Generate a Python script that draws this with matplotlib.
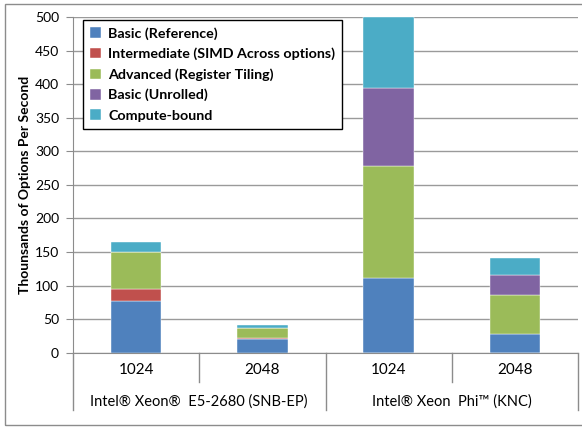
import numpy as np
from matplotlib import pyplot as plt
from matplotlib import transforms
from matplotlib.patches import Rectangle

plt.rcParams['font.family'] = ['Lato', 'DejaVu Sans']

# Thousands of options per second, one entry per bar
sizes = ["1024", "2048", "1024", "2048"]
platforms = ["Intel\u00ae Xeon\u00ae  E5-2680 (SNB-EP)", "Intel\u00ae Xeon  Phi\u2122 (KNC)"]
series_names = ["Basic (Reference)", "Intermediate (SIMD Across options)",
                "Advanced (Register Tiling)", "Basic (Unrolled)", "Compute-bound"]
basic_ref = [77, 20, 111.5, 28]
intermediate = [17.5, 1.5, -1, -2]
advanced = [55, 16, 166.5, 58]
basic_unrolled = [0, 0, 116.5, 30]
compute_bound = [16, 3.5, 105.5, 25]
colors = ["#4F81BD", "#C0504D", "#9BBB59", "#8064A2", "#4BACC6"]

W, H = 582, 428
fig = plt.figure(figsize=(W / 100, H / 100), dpi=100)
x0, x1, y0, y1 = 73, 578, 17, 352.7
ax = fig.add_axes([x0 / W, 1 - y1 / H, (x1 - x0) / W, (y1 - y0) / H])

# outer chart border
fig.patches.append(Rectangle((5 / W, 3 / H), 1.2, 1 - 7 / H, transform=fig.transFigure,
                             fill=False, edgecolor="#8c8c8c", linewidth=1.0))

x = np.arange(len(sizes))
pos_bottom = np.zeros(len(sizes))
neg_bottom = np.zeros(len(sizes))
for vals, name, c in zip([basic_ref, intermediate, advanced, basic_unrolled, compute_bound],
                         series_names, colors):
    vals = np.array(vals, dtype=float)
    bottom = np.where(vals >= 0, pos_bottom, neg_bottom)
    ax.bar(x, vals, 0.4, bottom=bottom, color=c, label=name,
           edgecolor="#ffffff", linewidth=0.3)
    pos_bottom += np.clip(vals, 0, None)
    neg_bottom += np.clip(vals, None, 0)

ax.set_xlim(-0.5, 3.5)
ax.set_ylim(0, 500)
ax.set_yticks(np.arange(0, 501, 50))
ax.yaxis.grid(True, color="#9a9a9a", linewidth=1.0)
ax.set_axisbelow(True)
for s in ["top", "right"]:
    ax.spines[s].set_visible(False)
ax.spines["left"].set_color("#8c8c8c")
ax.spines["bottom"].set_color("#8c8c8c")
ax.tick_params(axis="y", length=5, color="#8c8c8c", labelsize=10, pad=5)
ax.set_xticks([])
ax.set_ylabel("Thounsands of Options Per Second", fontsize=10, fontweight="bold", labelpad=3)

# two-level category axis
trans = transforms.blended_transform_factory(ax.transData, ax.transAxes)
h = y1 - y0
short = -(382 - y1) / h
long = -(410 - y1) / h
for b, depth in zip([-0.5, 0.5, 1.5, 2.5, 3.5], [long, short, long, short, long]):
    ax.plot([b, b], [0, depth], color="#8c8c8c", linewidth=1.0,
            transform=trans, clip_on=False)
for xi, s in zip(x, sizes):
    ax.text(xi, -(370 - y1) / h, s, transform=trans, ha="center", va="center", fontsize=11)
for gi, p in enumerate(platforms):
    ax.text(2 * gi + 0.5, -(402 - y1) / h, p, transform=trans, ha="center", va="center",
            fontsize=10.5)

leg = ax.legend(loc="upper left", bbox_to_anchor=(83 / W, 1 - 20 / H),
                bbox_transform=fig.transFigure, borderaxespad=0, fancybox=False,
                edgecolor="black", framealpha=1, prop={"weight": "bold", "size": 10.3},
                handlelength=0.75, handleheight=0.75, handletextpad=0.5,
                labelspacing=0.55, borderpad=0.5)
leg.get_frame().set_linewidth(1.0)

fig.savefig("out.png", dpi=100)
